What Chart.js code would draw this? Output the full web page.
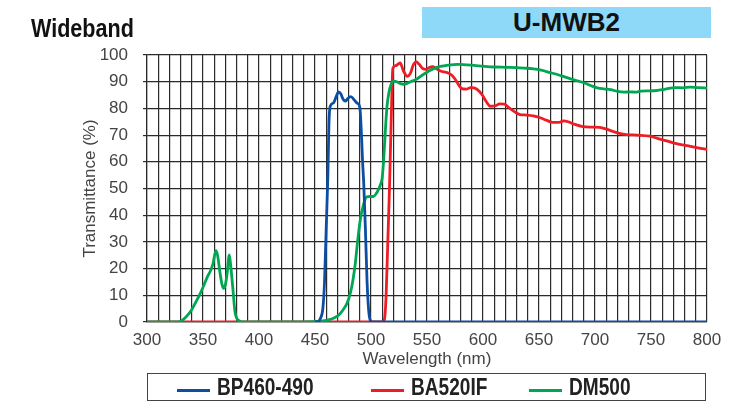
<!DOCTYPE html>
<html>
<head>
<meta charset="utf-8">
<script src="https://cdn.jsdelivr.net/npm/chart.js@4.4.0/dist/chart.umd.min.js"></script>
<style>
  body { margin: 0; background: #fff; }
  #wrap { position: relative; width: 748px; height: 403px; overflow: hidden; }
  #chart { position: absolute; left: 0; top: 0; }
  .title { position: absolute; left: 31px; top: 13px; font: bold 26px "Liberation Sans", sans-serif; color: #111;
           transform: scaleX(0.83); transform-origin: left center; }
  .badge { position: absolute; left: 422px; top: 7px; width: 289px; height: 31px; background: #8ed8f8;
           font: bold 26px "Liberation Sans", sans-serif; color: #111; text-align: center; line-height: 31px; }
  .legend { position: absolute; left: 147px; top: 373px; width: 557px; height: 26px; border: 1.5px solid #444; }
  .item { position: absolute; top: 0; height: 26px; line-height: 27px; font: bold 23px "Liberation Sans", sans-serif; color: #222;
          transform: scaleX(0.83); transform-origin: left center; }
  .swatch { position: absolute; height: 3px; width: 33px; top: 15px; }
</style>
</head>
<body>
<div id="wrap">
  <canvas id="chart" width="748" height="403"></canvas>
  <div class="title">Wideband</div>
  <div class="badge">U-MWB2</div>
  <div class="legend" id="legend"></div>
</div>
<script>
// ===== DATA =====
const seriesNames = ["BP460-490", "BA520IF", "DM500"];
const seriesColors = ["#0b4ea2", "#ee1c25", "#00a651"];

const bpWave = [450, 452, 455, 457, 458.5, 460, 461.5, 462.5, 463.6, 466.6, 469, 471, 473, 475, 477, 479.5, 482, 485, 487.5, 490, 491.5, 492.5, 493.5, 495, 496.5, 498, 499.5, 501, 800];
const bpValue = [0, 0, 1.5, 5, 15, 35, 55, 75, 80.8, 82.1, 84.5, 86.2, 85.5, 83.5, 82.7, 83.8, 84.4, 83.2, 82, 80.5, 70, 60, 52, 35, 15, 4, 0.5, 0, 0];

const baWave = [300, 510, 512, 513.5, 515, 516.5, 518, 519.5, 522, 526, 529, 532.5, 535, 538, 540.5, 543, 546, 549, 552, 555, 558, 562, 568, 572, 575, 578, 581, 585, 589, 592, 595, 599, 603, 606.5, 611, 615, 619, 624, 629, 633, 639, 645, 651, 657, 662, 668, 672, 676, 682, 689, 697, 704, 708, 714, 720, 728, 738, 749, 757, 764, 770, 778, 785, 792, 800];
const baValue = [0, 0, 1, 10, 30, 50, 75, 95, 96, 97, 94, 92, 93, 96.5, 97.4, 96.5, 95, 94.6, 95.3, 95.6, 95, 94, 93.4, 92.5, 91, 89, 87.4, 87.2, 87.8, 87.7, 87, 85.2, 82.5, 80.8, 81, 81.7, 81.6, 80, 78.5, 77.7, 77.5, 77.2, 76.5, 75.5, 74.8, 74.8, 75.3, 75, 74, 73.2, 73, 72.9, 72.5, 71.7, 70.8, 70.2, 70, 69.6, 68.6, 67.8, 67.1, 66.3, 65.8, 65.2, 64.6];

const dmWave = [300, 328, 331, 335, 339, 343, 347.6, 351, 354, 357, 359, 361.5, 363, 365, 367, 368.4, 370, 371.5, 373.5, 375, 376.8, 378.5, 380, 383, 386, 440, 455, 462, 467, 471, 475, 478.6, 481.5, 484, 486, 488, 490.4, 493, 496, 499, 502, 504.5, 506.8, 508.5, 510, 511.5, 513, 514.3, 516, 518, 520.3, 523, 526, 529, 533, 537, 541, 546, 551, 556, 562, 569, 577, 585, 592, 600, 610, 620, 630, 637, 645, 652, 660, 667, 675, 682, 690, 696, 702, 708, 714, 720, 726, 731, 736, 741, 748, 755, 760, 766, 772, 778, 785, 792, 800];
const dmValue = [0, 0, 0.5, 2, 4, 7, 10.7, 14, 17, 19.5, 22, 26.7, 25, 19, 14, 12.6, 14, 18, 25.1, 20, 11.9, 4, 1.5, 0.3, 0, 0, 0.3, 0.8, 1.5, 2.5, 4.5, 7, 10.7, 16, 22, 30, 38.2, 43.5, 46.8, 47, 47, 48, 49.8, 51.5, 54, 62, 73, 80.8, 86, 89, 90.2, 90, 89.3, 89, 89.5, 90.3, 91, 92.5, 93.8, 94.9, 95.7, 96.2, 96.5, 96.3, 96.1, 95.8, 95.5, 95.4, 95.3, 95.1, 94.8, 94.3, 93.4, 92.6, 91.5, 90.6, 89.6, 88.6, 87.7, 87.3, 87, 86.4, 86.1, 86.2, 86.1, 86.5, 86.6, 86.7, 87, 87.5, 87.8, 87.7, 88, 87.8, 87.6];

const xTickLabels = [300, 350, 400, 450, 500, 550, 600, 650, 700, 750, 800];
const yTickLabels = [0, 10, 20, 30, 40, 50, 60, 70, 80, 90, 100];

const toPoints = (xs, ys) => xs.map((x, i) => ({ x: x, y: ys[i] }));

// ===== LEGEND (html) =====
const legendPos = [[29, 69], [223, 263], [381, 421]];
const legend = document.getElementById("legend");
seriesNames.forEach((name, i) => {
    legend.innerHTML += `
        <div class="swatch" style="left:${legendPos[i][0]}px;background:${seriesColors[i]}"></div>
        <div class="item" style="left:${legendPos[i][1]}px">${name}</div>
    `;
});

// ===== CHART =====
const tickFont = { family: "Liberation Sans", size: 17 };
const gridColor = "#2a2a2a";

new Chart(document.getElementById("chart").getContext("2d"), {
    type: "line",
    data: {
        datasets: [
            { label: seriesNames[0], data: toPoints(bpWave, bpValue), borderColor: seriesColors[0], order: 0 },
            { label: seriesNames[1], data: toPoints(baWave, baValue), borderColor: seriesColors[1], order: 2 },
            { label: seriesNames[2], data: toPoints(dmWave, dmValue), borderColor: seriesColors[2], order: 1 }
        ]
    },
    options: {
        responsive: false,
        animation: false,
        layout: { padding: { top: 55, right: 41, bottom: 33, left: 0 } },
        elements: {
            line: { borderWidth: 2.8, cubicInterpolationMode: "monotone", fill: false },
            point: { radius: 0 }
        },
        plugins: { legend: { display: false }, tooltip: { enabled: false } },
        scales: {
            x: {
                type: "linear",
                min: 300,
                max: 800,
                afterFit: s => { s.height = 48; },
                ticks: {
                    stepSize: 10,
                    maxTicksLimit: 100,
                    autoSkip: false,
                    maxRotation: 0,
                    padding: 8,
                    color: "#444",
                    font: tickFont,
                    callback: v => xTickLabels.includes(v) ? v : ""
                },
                grid: { color: gridColor, lineWidth: 1.2, drawTicks: false },
                border: { color: gridColor, width: 1.2 },
                title: { display: true, text: "Wavelength (nm)", color: "#444", font: tickFont, padding: { top: 0, bottom: 0 } }
            },
            y: {
                min: 0,
                max: 100,
                afterFit: s => { s.width = 147; },
                ticks: {
                    stepSize: 10,
                    padding: 15,
                    color: "#444",
                    font: tickFont,
                    callback: v => yTickLabels.includes(v) ? v : ""
                },
                grid: { color: gridColor, lineWidth: 1.2, tickLength: 4 },
                border: { color: gridColor, width: 1.2 },
                title: { display: true, text: "Transmittance (%)", color: "#444", font: tickFont, padding: { top: 80, bottom: 0 } }
            }
        }
    }
});
</script>
</body>
</html>
